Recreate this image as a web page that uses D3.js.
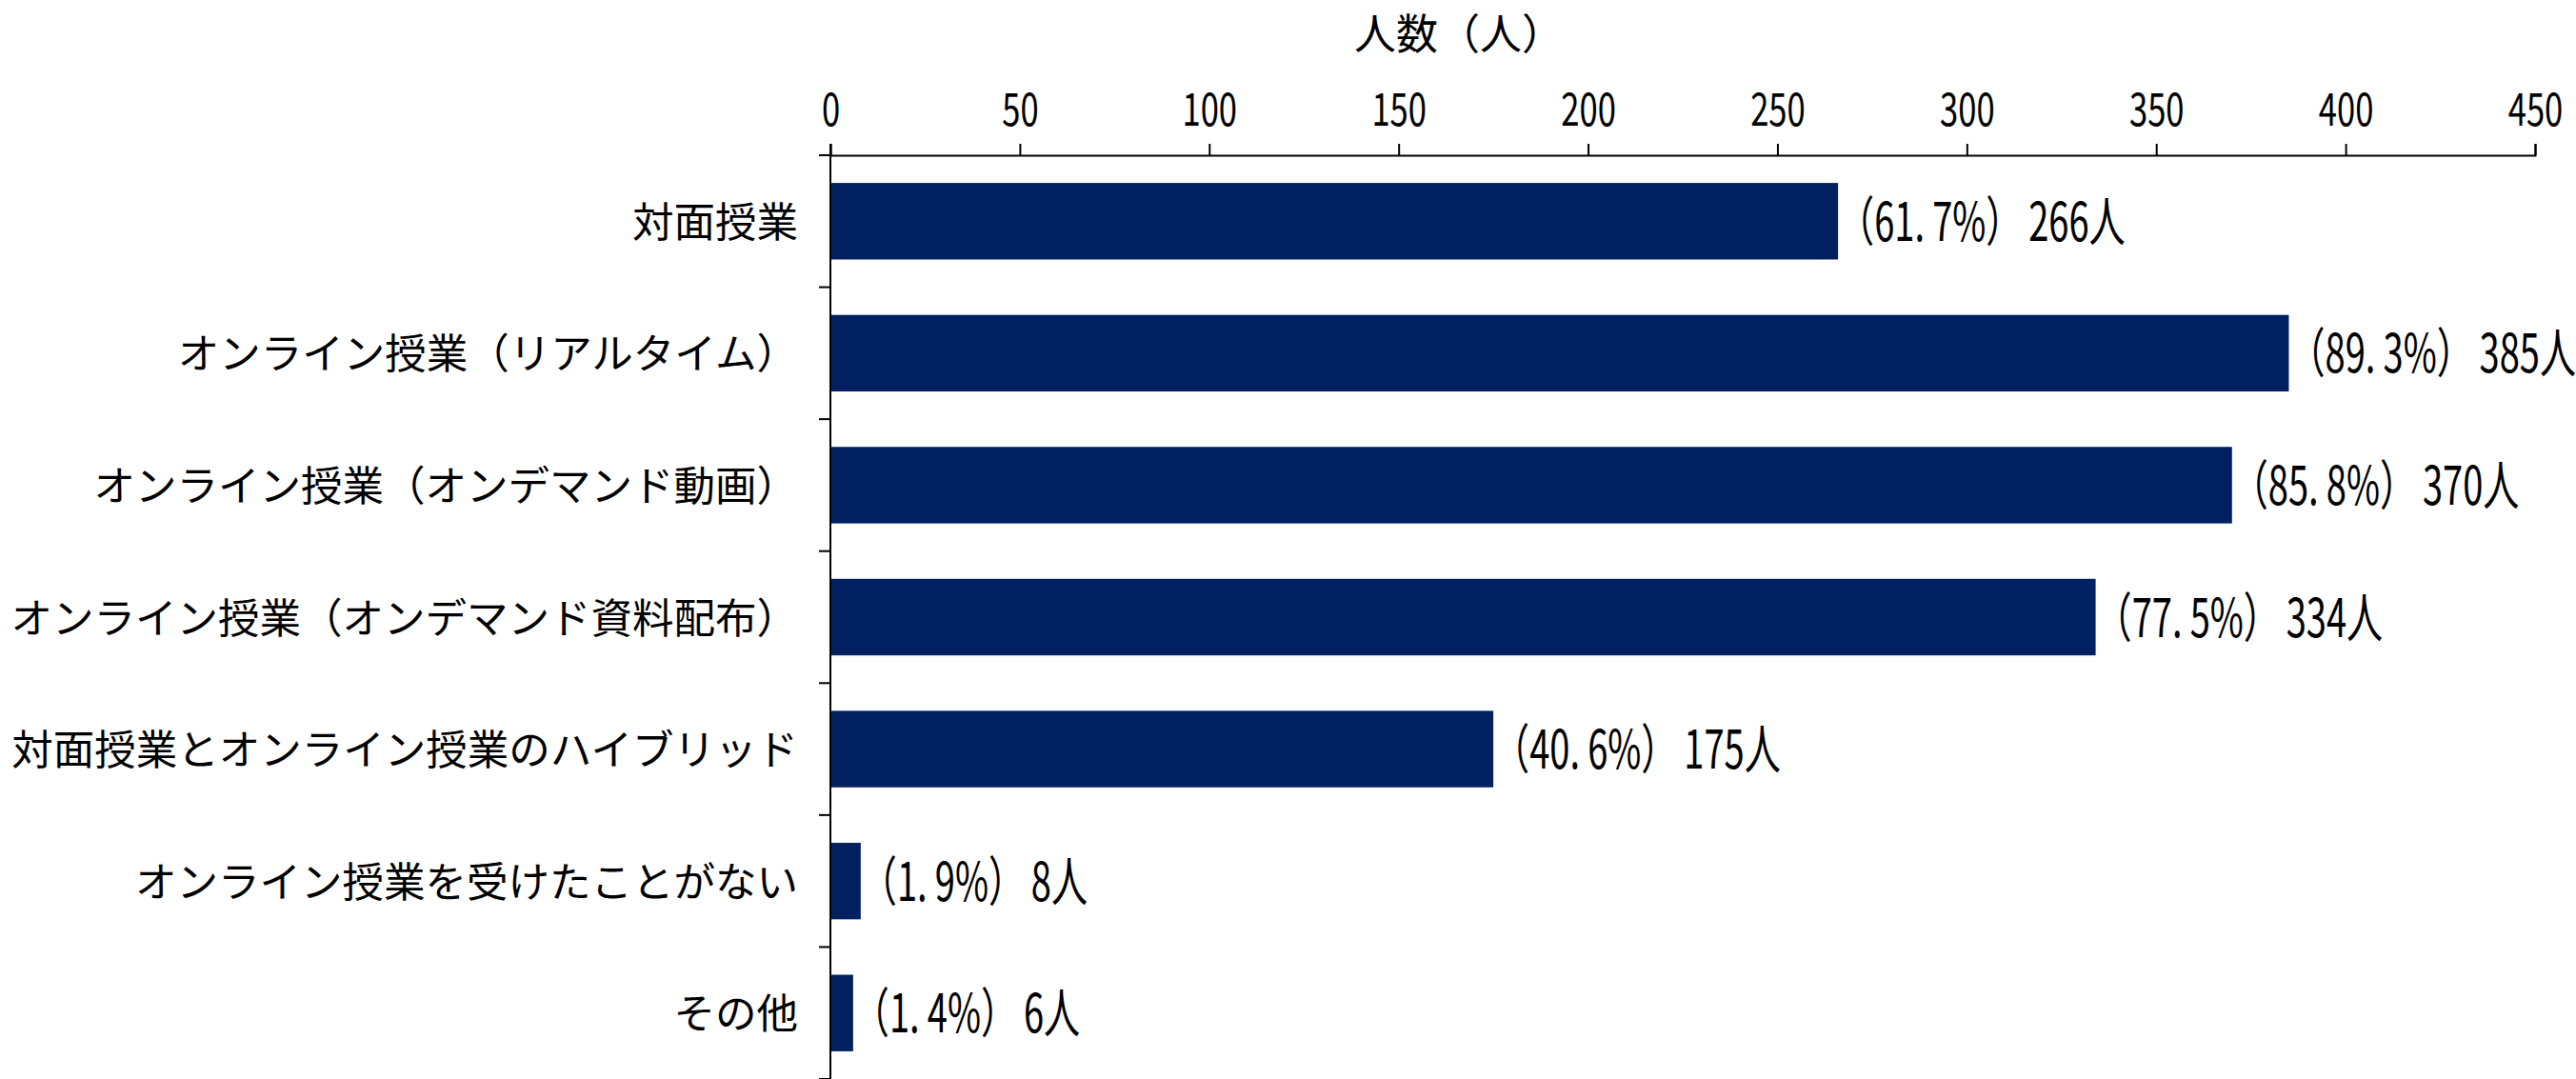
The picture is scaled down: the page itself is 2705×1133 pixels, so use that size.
<!DOCTYPE html>
<html><head><meta charset="utf-8">
<script src="https://cdn.jsdelivr.net/npm/d3@7"></script>
<style>body{margin:0;background:#fff;overflow:hidden}</style>
</head><body><svg id="c" width="2705" height="1133"></svg>
<script>
const categories = ["対面授業","オンライン授業（リアルタイム）","オンライン授業（オンデマンド動画）","オンライン授業（オンデマンド資料配布）","対面授業とオンライン授業のハイブリッド","オンライン授業を受けたことがない","その他"];
const counts = [266,385,370,334,175,8,6];
const percents = ["61.7","89.3","85.8","77.5","40.6","1.9","1.4"];
const xTicks = [0,50,100,150,200,250,300,350,400,450];
const axisTitle = "人数（人）";

const mLeft = 872, mRight = 2662, mTop = 163, mBottom = 1133;
const svg = d3.select("#c");
const jpFont = "'Noto Sans CJK JP','Noto Sans CJK SC',sans-serif";

const x = d3.scaleLinear().domain([0,450]).range([mLeft,mRight]);
const y = d3.scaleBand().domain(categories).range([mTop,mBottom]).paddingInner(0.42).paddingOuter(0.21);

// bars
svg.append("g").selectAll("rect").data(categories).join("rect")
  .attr("x", x(0)).attr("y", d=>y(d))
  .attr("width", (d,i)=>x(counts[i])-x(0)).attr("height", y.bandwidth())
  .attr("fill","#002060");

// x axis (top)
const xa = svg.append("g").attr("transform",`translate(0,${mTop})`)
  .call(d3.axisTop(x).tickValues(xTicks).tickSize(12).tickPadding(19).tickFormat(d3.format("d")));
xa.selectAll("path,line").attr("stroke","#000").attr("stroke-width",2);
xa.selectAll("text").attr("font-family",jpFont).attr("font-size",48).attr("fill","#000")
  .attr("transform","scale(0.72,1)");

// y axis line with ticks at band boundaries
const step = y.step();
const bounds = d3.range(categories.length+1).map(i=>mTop+i*step);
const ya = svg.append("g");
ya.append("line").attr("x1",mLeft).attr("x2",mLeft).attr("y1",mTop-12).attr("y2",mBottom)
  .attr("stroke","#000").attr("stroke-width",2);
ya.selectAll("line.t").data(bounds).join("line").attr("class","t")
  .attr("x1",mLeft-12).attr("x2",mLeft).attr("y1",d=>d).attr("y2",d=>d)
  .attr("stroke","#000").attr("stroke-width",2);

// category labels
svg.append("g").selectAll("text").data(categories).join("text")
  .attr("x", 838).attr("y", d=>y(d)+y.bandwidth()/2-2)
  .attr("text-anchor","end").attr("dominant-baseline","central")
  .attr("font-family",jpFont).attr("font-size",43.5).attr("fill","#000")
  .text(d=>d);

// value labels
const vl = svg.append("g").selectAll("g").data(categories).join("g")
  .attr("transform",(d,i)=>`translate(${x(counts[i])},${y(d)+y.bandwidth()/2-4}) scale(0.68,1)`);
vl.append("text").attr("dominant-baseline","central")
  .attr("font-family",jpFont).attr("font-size",56).attr("fill","#000")
  .each(function(d,i){
    const t=d3.select(this);
    const p=percents[i].split(".");
    t.append("tspan").text("（"+p[0]+".");
    t.append("tspan").attr("dx",12).text(p[1]+"%）");
    t.append("tspan").attr("dx",10).text(counts[i]+"人");
  });

// axis title
svg.append("text").attr("x",1532).attr("y",52).attr("text-anchor","middle")
  .attr("font-family",jpFont).attr("font-size",44).attr("fill","#000").text(axisTitle);
</script></body></html>
